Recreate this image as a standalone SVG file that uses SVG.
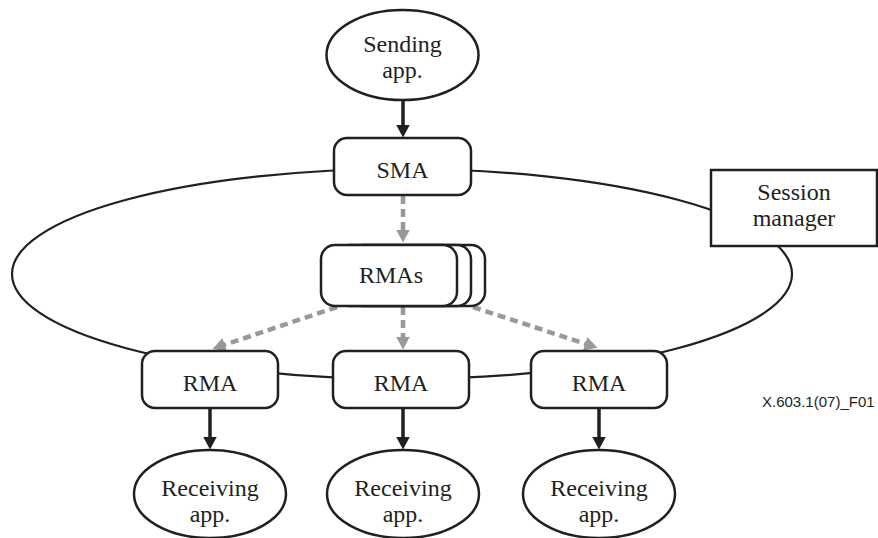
<svg xmlns="http://www.w3.org/2000/svg" width="878" height="538" viewBox="0 0 878 538">
  <defs>
    <marker id="head" markerUnits="userSpaceOnUse" markerWidth="13" markerHeight="14" refX="0.5" refY="7" orient="auto" viewBox="0 0 13 14">
      <path d="M0,0 L13,7 L0,14 Z" fill="#231f20"/>
    </marker>
    <marker id="head-grey" markerUnits="userSpaceOnUse" markerWidth="13" markerHeight="14" refX="0.5" refY="7" orient="auto" viewBox="0 0 13 14">
      <path d="M0,0 L13,7 L0,14 Z" fill="#999999"/>
    </marker>
  </defs>
  <style>
    .box { fill: #ffffff; stroke: #231f20; stroke-width: 2.5; }
    .ring { fill: none; stroke: #231f20; stroke-width: 2.2; }
    .flow { stroke: #231f20; stroke-width: 3.5; fill: none; marker-end: url(#head); }
    .dist { stroke: #999999; stroke-width: 4.5; stroke-dasharray: 8 5; fill: none; marker-end: url(#head-grey); }
    .lbl { font-family: "Liberation Serif", "Times New Roman", serif; font-size: 24px; fill: #231f20; text-anchor: middle; }
    .ref { font-family: "Liberation Sans", Arial, sans-serif; font-size: 15px; fill: #231f20; }
  </style>

  <!-- connectors: the session ring, data flows and multicast distribution -->
  <g id="connectors">
    <ellipse class="ring" cx="402" cy="274" rx="390" ry="105"/>
    <line class="flow" x1="403" y1="100" x2="403" y2="125"/>
    <line class="flow" x1="210" y1="409" x2="210" y2="437"/>
    <line class="flow" x1="403" y1="409" x2="403" y2="437"/>
    <line class="flow" x1="599" y1="409" x2="599" y2="437"/>
    <line class="dist" x1="403" y1="196" x2="403" y2="230"/>
    <line class="dist" x1="337" y1="307" x2="224.3" y2="344.9"/>
    <line class="dist" x1="403" y1="307" x2="403" y2="337"/>
    <line class="dist" x1="473" y1="307" x2="585.6" y2="343.9"/>
  </g>

  <g id="sending-app">
    <ellipse class="box" cx="402.5" cy="55" rx="76" ry="45"/>
    <text class="lbl" x="402.5" y="52">Sending</text>
    <text class="lbl" x="402.5" y="78">app.</text>
  </g>

  <g id="sma">
    <rect class="box" x="334" y="138" width="137" height="57" rx="13"/>
    <text class="lbl" x="402.5" y="178">SMA</text>
  </g>

  <g id="session-manager">
    <rect class="box" x="711" y="170" width="166" height="76"/>
    <text class="lbl" x="794" y="200">Session</text>
    <text class="lbl" x="794" y="226">manager</text>
  </g>

  <g id="rmas">
    <rect class="box" x="349" y="245" width="136" height="61" rx="14"/>
    <rect class="box" x="335" y="245" width="136" height="61" rx="14"/>
    <rect class="box" x="321" y="245" width="136" height="61" rx="14"/>
    <text class="lbl" x="391" y="283">RMAs</text>
  </g>

  <g id="rma-left">
    <rect class="box" x="142" y="351" width="136" height="57" rx="13"/>
    <text class="lbl" x="210" y="391">RMA</text>
  </g>

  <g id="rma-middle">
    <rect class="box" x="333" y="351" width="136" height="57" rx="13"/>
    <text class="lbl" x="401" y="391">RMA</text>
  </g>

  <g id="rma-right">
    <rect class="box" x="531" y="351" width="136" height="57" rx="13"/>
    <text class="lbl" x="599" y="391">RMA</text>
  </g>

  <g id="receiving-app-left">
    <ellipse class="box" cx="210" cy="494" rx="76" ry="44"/>
    <text class="lbl" x="210" y="496">Receiving</text>
    <text class="lbl" x="210" y="522">app.</text>
  </g>

  <g id="receiving-app-middle">
    <ellipse class="box" cx="403" cy="494" rx="76" ry="44"/>
    <text class="lbl" x="403" y="496">Receiving</text>
    <text class="lbl" x="403" y="522">app.</text>
  </g>

  <g id="receiving-app-right">
    <ellipse class="box" cx="599" cy="494" rx="76" ry="44"/>
    <text class="lbl" x="599" y="496">Receiving</text>
    <text class="lbl" x="599" y="522">app.</text>
  </g>

  <text class="ref" x="762" y="407">X.603.1(07)_F01</text>
</svg>
